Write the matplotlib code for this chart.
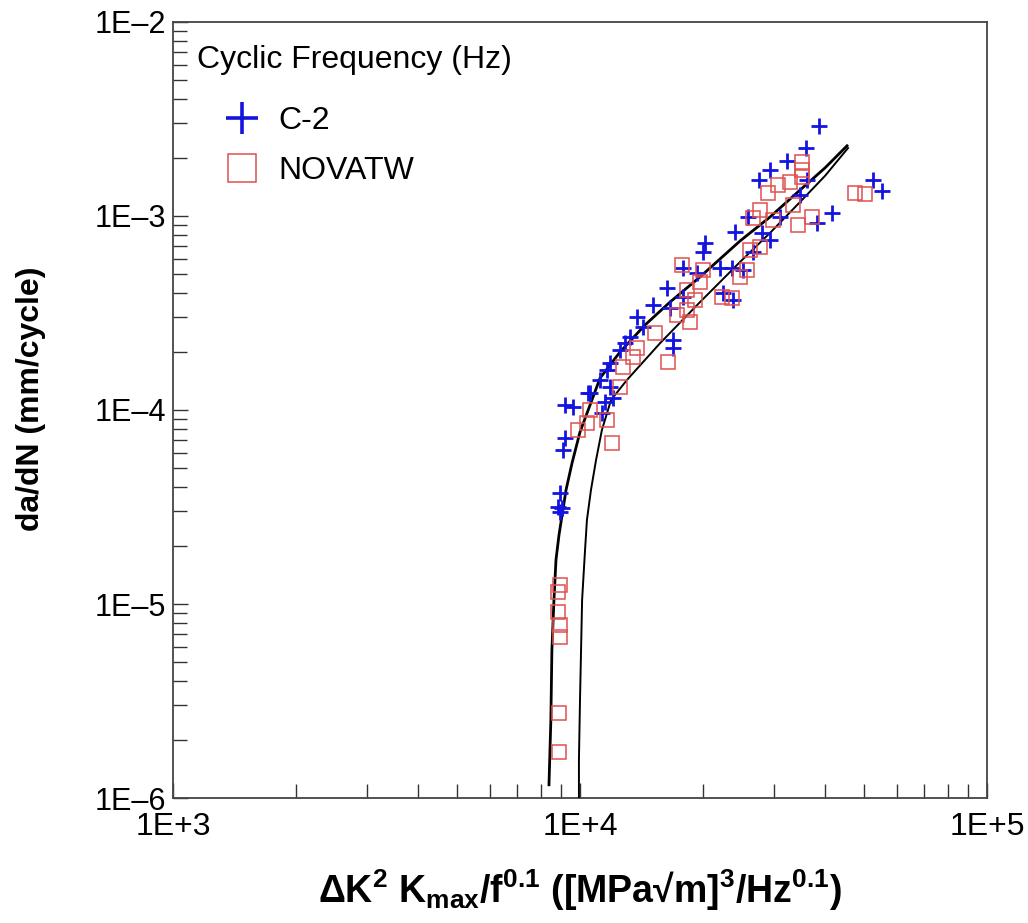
import matplotlib
matplotlib.use("Agg")
import matplotlib.pyplot as plt
from matplotlib.lines import Line2D
from matplotlib.ticker import LogLocator, NullFormatter, FixedLocator

plt.rcParams["font.family"] = ["Liberation Sans", "DejaVu Sans"]
plt.rcParams["mathtext.fontset"] = "custom"
plt.rcParams["mathtext.rm"] = "Liberation Sans:bold"
plt.rcParams["mathtext.it"] = "Liberation Sans:bold"
plt.rcParams["mathtext.bf"] = "Liberation Sans:bold"

# C-2 data (x: dK^2 Kmax / f^0.1, y: da/dN)
c2_x = [3.865e4, 3.592e4, 3.226e4, 2.93e4, 2.753e4, 3.612e4, 5.248e4, 5.52e4,
        3.472e4, 4.162e4, 3.822e4, 2.587e4, 3.10e4, 2.403e4, 2.80e4, 2.93e4,
        2.661e4, 2.028e4, 2.006e4, 1.791e4, 1.939e4, 2.208e4, 2.363e4, 2.514e4,
        2.246e4, 2.376e4, 1.636e4, 1.791e4, 1.512e4, 1.664e4, 1.38e4, 1.428e4,
        1.692e4, 1.692e4, 1.327e4, 1.29e4, 1.254e4, 1.185e4, 1.165e4, 1.12e4,
        1.185e4, 1.046e4, 1.058e4, 9.19e3, 9.61e3, 1.152e4, 1.205e4, 1.132e4,
        9.19e3, 9.08e3, 8.93e3, 8.83e3, 9.03e3, 8.93e3]
c2_y = [2.91e-3, 2.24e-3, 1.92e-3, 1.73e-3, 1.53e-3, 1.53e-3, 1.53e-3, 1.345e-3,
        1.28e-3, 1.036e-3, 9.2e-4, 9.88e-4, 9.88e-4, 8.27e-4, 8.18e-4, 7.52e-4,
        6.52e-4, 7.26e-4, 6.52e-4, 5.40e-4, 5.08e-4, 5.40e-4, 5.40e-4, 5.27e-4,
        4.01e-4, 3.69e-4, 4.26e-4, 3.82e-4, 3.48e-4, 3.36e-4, 3.02e-4, 2.68e-4,
        2.30e-4, 2.09e-4, 2.38e-4, 2.21e-4, 2.04e-4, 1.75e-4, 1.61e-4, 1.43e-4,
        1.31e-4, 1.22e-4, 1.22e-4, 1.06e-4, 1.036e-4, 1.10e-4, 1.15e-4, 9.65e-5,
        7.18e-5, 6.2e-5, 3.73e-5, 3.16e-5, 3.13e-5, 2.98e-5]

# NOVATW data
nova_x = [3.512e4, 3.512e4, 3.512e4, 3.281e4, 3.066e4, 2.897e4, 4.74e4, 5.015e4,
          3.337e4, 2.769e4, 2.661e4, 2.98e4, 3.715e4, 3.433e4, 2.769e4, 2.616e4,
          1.781e4, 2.006e4, 2.572e4, 2.472e4, 1.972e4, 2.233e4, 2.363e4, 1.832e4,
          1.917e4, 1.832e4, 1.731e4, 1.864e4, 1.529e4, 1.38e4, 1.35e4, 1.276e4,
          1.645e4, 1.254e4, 1.165e4, 9.89e3, 1.04e4, 1.198e4, 1.058e4,
          8.93e3, 8.83e3, 8.83e3, 8.93e3, 8.93e3, 8.88e3, 8.88e3]
nova_y = [1.90e-3, 1.73e-3, 1.59e-3, 1.50e-3, 1.445e-3, 1.315e-3, 1.315e-3, 1.30e-3,
          1.14e-3, 1.074e-3, 9.77e-4, 9.54e-4, 9.88e-4, 8.99e-4, 6.92e-4, 6.68e-4,
          5.59e-4, 5.27e-4, 5.27e-4, 4.85e-4, 4.57e-4, 3.82e-4, 3.78e-4, 4.16e-4,
          3.69e-4, 3.28e-4, 3.09e-4, 2.84e-4, 2.49e-4, 2.09e-4, 1.875e-4, 1.67e-4,
          1.77e-4, 1.31e-4, 8.88e-5, 7.89e-5, 8.57e-5, 6.76e-5, 1.0e-4,
          1.25e-5, 1.15e-5, 9.1e-6, 7.8e-6, 6.8e-6, 2.74e-6, 1.73e-6]

# fitted curves
fit1_x = [8.39e3, 8.48e3, 8.53e3, 8.63e3, 8.73e3, 8.88e3, 9.24e3, 9.56e3, 1.0e4,
          1.07e4, 1.12e4, 1.254e4, 1.444e4, 1.664e4, 1.972e4, 2.472e4, 2.93e4,
          3.472e4, 4.0e4, 4.53e4]
fit1_y = [1.17e-6, 2.52e-6, 5.79e-6, 1.05e-5, 1.69e-5, 2.27e-5, 3.87e-5, 5.33e-5,
          7.7e-5, 1.127e-4, 1.46e-4, 1.99e-4, 2.74e-4, 3.60e-4, 4.85e-4, 7.43e-4,
          9.88e-4, 1.36e-3, 1.77e-3, 2.30e-3]
fit2_x = [9.94e3, 9.94e3, 1.0e4, 1.006e4, 1.012e4, 1.029e4, 1.040e4, 1.064e4,
          1.095e4, 1.132e4, 1.192e4, 1.305e4, 1.573e4, 1.972e4, 2.472e4, 2.93e4,
          3.472e4, 4.0e4, 4.556e4]
fit2_y = [1.0e-6, 1.57e-6, 3.2e-6, 5.79e-6, 1.05e-5, 1.90e-5, 2.71e-5, 3.87e-5,
          5.52e-5, 7.89e-5, 1.127e-4, 1.43e-4, 2.21e-4, 3.60e-4, 5.79e-4, 8.18e-4,
          1.18e-3, 1.61e-3, 2.24e-3]

x_ticks = [1e3, 1e4, 1e5]
x_labels = ["1E+3", "1E+4", "1E+5"]
y_ticks = [1e-6, 1e-5, 1e-4, 1e-3, 1e-2]
y_labels = ["1E\u20136", "1E\u20135", "1E\u20134", "1E\u20133", "1E\u20132"]

BLUE = "#1414e0"
RED = "#e05050"

fig = plt.figure(figsize=(10.28, 9.23), dpi=100)
ax = fig.add_axes([0.1683, 0.1354, 0.7918, 0.8408])

ax.plot(fit1_x, fit1_y, color="black", lw=2.0, zorder=3)
ax.plot(fit2_x, fit2_y, color="black", lw=1.4, zorder=3)
ax.plot(c2_x, c2_y, ls="none", marker="+", ms=11, mew=2, color=BLUE, zorder=4)
ax.plot(nova_x, nova_y, ls="none", marker="s", ms=10, mew=1.1, mfc="none",
        mec=RED, zorder=4)

ax.set_xscale("log")
ax.set_yscale("log")
ax.set_xlim(1e3, 1e5)
ax.set_ylim(1e-6, 1e-2)

ax.xaxis.set_major_locator(FixedLocator(x_ticks))
ax.set_xticklabels(x_labels)
ax.yaxis.set_major_locator(FixedLocator(y_ticks))
ax.set_yticklabels(y_labels)
ax.xaxis.set_minor_locator(LogLocator(base=10, subs=range(2, 10)))
ax.yaxis.set_minor_locator(LogLocator(base=10, subs=range(2, 10)))
ax.xaxis.set_minor_formatter(NullFormatter())
ax.yaxis.set_minor_formatter(NullFormatter())
ax.tick_params(which="both", direction="in", top=False, right=False,
               width=1.0, color="#333333")
ax.tick_params(which="major", length=11)
ax.tick_params(axis="x", which="major", pad=10, labelsize=23)
ax.tick_params(axis="y", which="major", pad=5, labelsize=22)
ax.tick_params(which="minor", length=10)
for s in ax.spines.values():
    s.set_linewidth(1.3)
    s.set_color("#444444")

ax.set_xlabel("\u0394K$^2$ K$_{max}$/f$^{0.1}$ ([MPa\u221am]$^3$/Hz$^{0.1}$)",
              fontsize=27, fontweight="bold")
ax.xaxis.set_label_coords(0.5, -0.089)
ax.set_ylabel("da/dN (mm/cycle)", fontsize=23, fontweight="bold")
ax.yaxis.set_label_coords(-0.156, 0.515)

# legend: title as plain text, entries through ax.legend
fig.text(197 / 1028, 1 - 60 / 923, "Cyclic Frequency (Hz)", fontsize=23,
         ha="left", va="center")
handles = [
    Line2D([], [], ls="none", marker="+", ms=23, mew=2.6, color=BLUE),
    Line2D([], [], ls="none", marker="s", ms=20, mew=1.1, mfc="none", mec=RED),
]
ax.legend(handles, ["C-2", "NOVATW"], loc="upper left",
          bbox_to_anchor=(218 / 1028, 1 - 106 / 923),
          bbox_transform=fig.transFigure, frameon=False, fontsize=23,
          handlelength=1.5, handletextpad=0.38, labelspacing=0.64,
          borderpad=0, borderaxespad=0)

fig.savefig("out.png", dpi=100)
